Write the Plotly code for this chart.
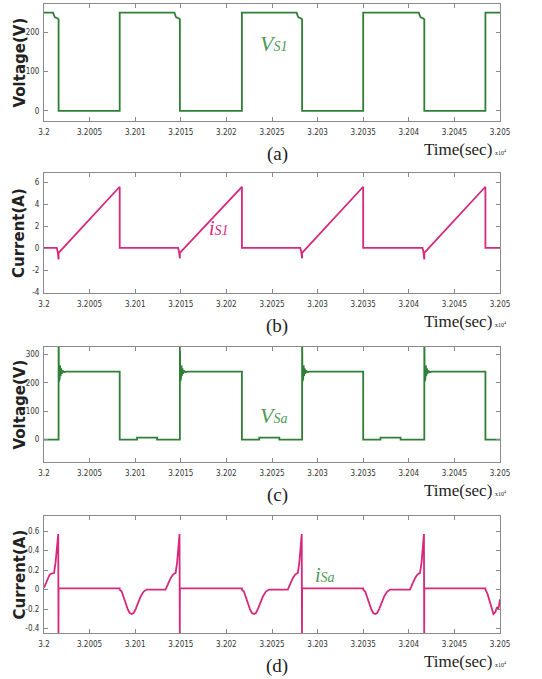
import plotly.graph_objects as go

# ---------------- data ----------------
x_tick_vals = [3.2, 3.2005, 3.201, 3.2015, 3.202, 3.2025, 3.203, 3.2035, 3.204, 3.2045, 3.205]
x_tick_text = ["3.2", "3.2005", "3.201", "3.2015", "3.202", "3.2025", "3.203", "3.2035", "3.204", "3.2045", "3.205"]

# (a) Vs1
vs1_t = [3.2, 3.2001, 3.20011, 3.20012, 3.20015, 3.20016, 3.20016,
         3.20083, 3.20083,
         3.20143, 3.20144, 3.20145, 3.20148, 3.20149, 3.20149,
         3.20217, 3.20217,
         3.20277, 3.20278, 3.20279, 3.20282, 3.20283, 3.20283,
         3.2035, 3.2035,
         3.20411, 3.20412, 3.20413, 3.20416, 3.20417, 3.20417,
         3.20484, 3.20484, 3.205]
vs1_v = [250, 250, 243, 238, 235, 233, 0,
         0, 250,
         250, 243, 238, 235, 233, 0,
         0, 250,
         250, 243, 238, 235, 233, 0,
         0, 250,
         250, 243, 238, 235, 233, 0,
         0, 250, 250]

# (b) iS1
is1_t = [3.2, 3.20014, 3.20015, 3.20016, 3.20016, 3.20083, 3.20083,
         3.20147, 3.20148, 3.20149, 3.20149, 3.20217, 3.20217,
         3.20281, 3.20282, 3.20283, 3.20283, 3.2035, 3.2035,
         3.20415, 3.20416, 3.20417, 3.20417, 3.20484, 3.20484, 3.205]
is1_v = [0.05, 0.05, -0.3, -1.0, -0.4, 5.6, 0.05,
         0.05, -0.3, -0.9, -0.4, 5.6, 0.05,
         0.05, -0.3, -0.9, -0.4, 5.6, 0.05,
         0.05, -0.3, -1.0, -0.4, 5.6, 0.05, 0.05]

# (c) VSa
vsa_t = [3.2,
         3.20016, 3.20016, 3.200164, 3.200168, 3.200172, 3.200177, 3.200182, 3.200188, 3.200195, 3.200205, 3.20022, 3.20024,
         3.20083, 3.20083, 3.20102, 3.20102, 3.20124, 3.20124,
         3.20149, 3.20149, 3.201494, 3.201498, 3.201502, 3.201507, 3.201512, 3.201518, 3.201525, 3.201535, 3.20155, 3.20157,
         3.20217, 3.20217, 3.20236, 3.20236, 3.20258, 3.20258,
         3.20283, 3.20283, 3.202834, 3.202838, 3.202842, 3.202847, 3.202852, 3.202858, 3.202865, 3.202875, 3.20289, 3.20291,
         3.2035, 3.2035, 3.20369, 3.20369, 3.20391, 3.20391,
         3.20417, 3.20417, 3.204174, 3.204178, 3.204182, 3.204187, 3.204192, 3.204198, 3.204205, 3.204215, 3.20423, 3.20425,
         3.20484, 3.20484, 3.205]
vsa_v = [0,
         0, 400, 205, 272, 215, 262, 225, 252, 233, 244, 238, 240,
         240, 0, 0, 7, 7, 0,
         0, 400, 205, 272, 215, 262, 225, 252, 233, 244, 238, 240,
         240, 0, 0, 7, 7, 0,
         0, 400, 205, 272, 215, 262, 225, 252, 233, 244, 238, 240,
         240, 0, 0, 7, 7, 0,
         0, 400, 205, 272, 215, 262, 225, 252, 233, 244, 238, 240,
         240, 0, 0]

# (d) iSa
isa_t = [3.2, 3.20002, 3.20004, 3.20006, 3.20008, 3.20011, 3.200127, 3.200145, 3.200156, 3.200159, 3.20016,
         3.20083, 3.20083, 3.200852, 3.200874, 3.200896, 3.200918, 3.20094, 3.200962, 3.200983, 3.201005, 3.201027, 3.20106, 3.201093, 3.201126,
         3.201333, 3.20135, 3.20137, 3.20139, 3.20141, 3.20143, 3.201443, 3.20146, 3.201475, 3.201486, 3.201489, 3.20149,
         3.20217, 3.20217, 3.202192, 3.202214, 3.202236, 3.202258, 3.20228, 3.202302, 3.202323, 3.202345, 3.202367, 3.2024, 3.202433, 3.202466,
         3.202673, 3.20269, 3.20271, 3.20273, 3.20275, 3.20277, 3.202783, 3.2028, 3.202815, 3.202826, 3.202829, 3.20283,
         3.2035, 3.2035, 3.203522, 3.203544, 3.203566, 3.203588, 3.20361, 3.203632, 3.203653, 3.203675, 3.203697, 3.20373, 3.203763, 3.203796,
         3.204013, 3.20403, 3.20405, 3.20407, 3.20409, 3.20411, 3.204123, 3.20414, 3.204155, 3.204166, 3.204169, 3.20417,
         3.20484, 3.20484, 3.204862, 3.204884, 3.204906, 3.204928, 3.20495, 3.204966, 3.204982, 3.205]
isa_v = [0.02, 0.07, 0.12, 0.15, 0.165, 0.17, 0.28, 0.42, 0.57, -0.5, 0.012,
         0.012, 0, -0.02, -0.07, -0.14, -0.2, -0.24, -0.25, -0.24, -0.2, -0.14, -0.07, -0.02, 0,
         0, 0.03, 0.08, 0.12, 0.15, 0.165, 0.17, 0.28, 0.42, 0.57, -0.5, 0.012,
         0.012, 0, -0.02, -0.07, -0.14, -0.2, -0.24, -0.25, -0.24, -0.2, -0.14, -0.07, -0.02, 0,
         0, 0.03, 0.08, 0.12, 0.15, 0.165, 0.17, 0.28, 0.42, 0.57, -0.5, 0.012,
         0.012, 0, -0.02, -0.07, -0.14, -0.2, -0.24, -0.25, -0.24, -0.2, -0.14, -0.07, -0.02, 0,
         0, 0.03, 0.08, 0.12, 0.15, 0.165, 0.17, 0.28, 0.42, 0.57, -0.5, 0.012,
         0.012, 0, -0.04, -0.12, -0.2, -0.25, -0.23, -0.18, -0.2, -0.1]

ya_ticks = [0, 100, 200]
yb_ticks = [-4, -2, 0, 2, 4, 6]
yc_ticks = [0, 100, 200, 300]
yd_ticks = [-0.4, -0.2, 0, 0.2, 0.4, 0.6]
yd_text = ["-0.4", "-0.2", "0", "0.2", "0.4", "0.6"]

panel_letters = ["(a)", "(b)", "(c)", "(d)"]
y_titles = ["Voltage(V)", "Current(A)", "Voltage(V)", "Current(A)"]

# ---------------- styling ----------------
W, H = 542, 679
GREEN = "#2f7f36"
MAGENTA = "#d6287c"
LABEL_GREEN = "#4f9a57"
TICK_FONT = dict(family="Liberation Sans Narrow, DejaVu Sans Condensed, sans-serif", size=8, color="#333333")

# plot areas in pixels (top, bottom)
panels = [(4, 121), (173, 293), (347, 462), (516, 633)]
x_left, x_right = 44, 500
y_ranges = [[-26, 272], [-4.05, 6.85], [-79, 327], [-0.445, 0.755]]

def py(p):
    return 1 - p / H

fig = go.Figure()
series = [(vs1_t, vs1_v, GREEN), (is1_t, is1_v, MAGENTA), (vsa_t, vsa_v, GREEN), (isa_t, isa_v, MAGENTA)]
for i, (t, v, c) in enumerate(series):
    sfx = "" if i == 0 else str(i + 1)
    fig.add_trace(go.Scatter(x=t, y=v, mode="lines", line=dict(color=c, width=1.8),
                             xaxis="x" + sfx, yaxis="y" + sfx, showlegend=False, hoverinfo="skip"))

layout = dict(width=W, height=H, margin=dict(l=0, r=0, t=0, b=0, autoexpand=False),
              paper_bgcolor="white", plot_bgcolor="white", showlegend=False)

ytick_sets = [(ya_ticks, [str(v) for v in ya_ticks]), (yb_ticks, [str(v) for v in yb_ticks]),
              (yc_ticks, [str(v) for v in yc_ticks]), (yd_ticks, yd_text)]

axis_common = dict(showgrid=False, zeroline=False, showline=True, linecolor="#8a8a8a", linewidth=1,
                   mirror="allticks", ticks="inside", ticklen=4, tickcolor="#8a8a8a", tickwidth=1,
                   tickfont=TICK_FONT, fixedrange=True, automargin=False)

annotations = []
for i, (top, bot) in enumerate(panels):
    sfx = "" if i == 0 else str(i + 1)
    layout["xaxis" + sfx] = dict(axis_common, domain=[x_left / W, x_right / W], range=[3.2, 3.205],
                                 tickmode="array", tickvals=x_tick_vals, ticktext=x_tick_text,
                                 anchor="y" + sfx, ticklabelstandoff=3)
    tv, tt = ytick_sets[i]
    layout["yaxis" + sfx] = dict(axis_common, domain=[py(bot), py(top)], range=y_ranges[i],
                                 tickmode="array", tickvals=tv, ticktext=tt, anchor="x" + sfx,
                                 ticklabelstandoff=2)
    # y title
    annotations.append(dict(text="<b>" + y_titles[i] + "</b>", textangle=-90, xref="paper", yref="paper",
                            x=19 / W, y=py((top + bot) / 2), xanchor="center", yanchor="middle", showarrow=False,
                            font=dict(family="DejaVu Sans, sans-serif", size=15, color="#222222")))
    # panel letter
    annotations.append(dict(text=panel_letters[i], xref="paper", yref="paper", x=277 / W, y=py(bot + 33),
                            xanchor="center", yanchor="middle",
                            showarrow=False, font=dict(family="Liberation Serif, serif", size=19, color="#222222")))
    # Time(sec) label
    annotations.append(dict(text="Time(sec)", xref="paper", yref="paper", x=458 / W, y=py(bot + 28),
                            xanchor="center", yanchor="middle",
                            showarrow=False, font=dict(family="Liberation Serif, serif", size=17, color="#222222")))
    annotations.append(dict(text="x10<sup>4</sup>", xref="paper", yref="paper", x=493 / W, y=py(bot + 31),
                            xanchor="left", yanchor="middle",
                            showarrow=False, font=dict(family="Liberation Serif, serif", size=6, color="#222222")))

# waveform name labels
name_labels = [
    ("<i>V<span style='font-size:14px'>S1</span></i>", 273, 43, LABEL_GREEN, 22),
    ("<i>i<span style='font-size:14px'>S1</span></i>", 219, 228, MAGENTA, 20),
    ("<i>V<span style='font-size:14px'>Sa</span></i>", 273, 415, LABEL_GREEN, 22),
    ("<i>i<span style='font-size:14px'>Sa</span></i>", 325, 575, LABEL_GREEN, 20),
]
for txt, x, y, col, sz in name_labels:
    annotations.append(dict(text=txt, xref="paper", yref="paper", x=x / W, y=py(y), showarrow=False,
                            xanchor="center", yanchor="middle",
                            font=dict(family="Liberation Serif, serif", size=sz, color=col)))

layout["annotations"] = annotations
fig.update_layout(**layout)
fig.write_html("out.html", config={"displayModeBar": False},
               post_script="document.body.style.margin='0px';document.body.style.overflow='hidden';")
